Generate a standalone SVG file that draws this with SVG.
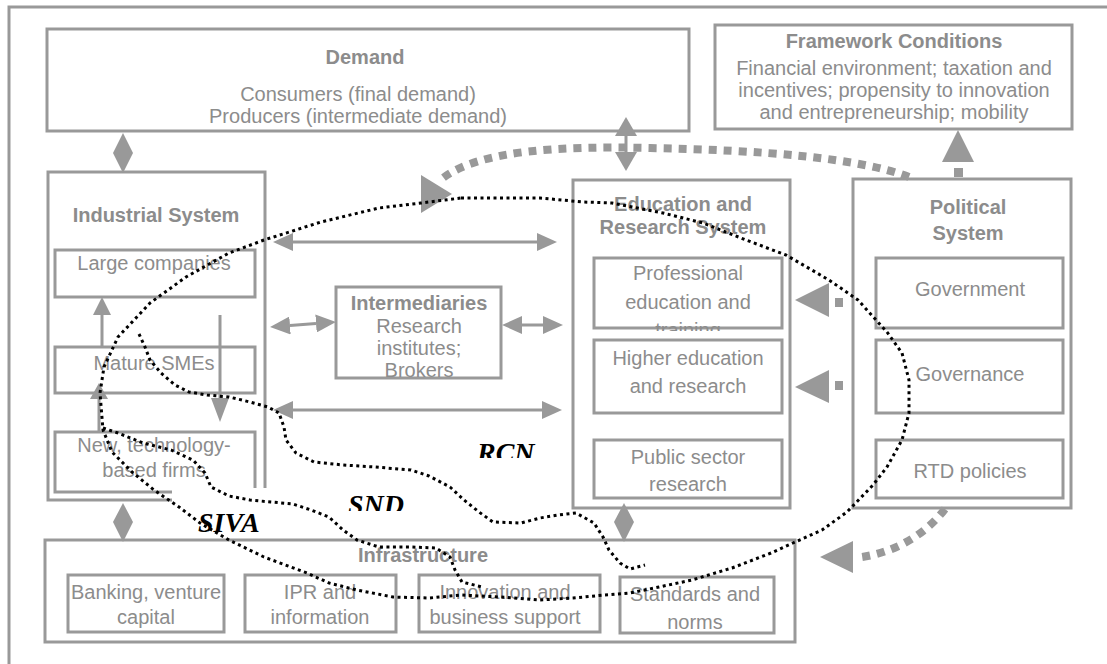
<svg xmlns="http://www.w3.org/2000/svg" width="1107" height="664" viewBox="0 0 1107 664">
<style>
.box{fill:#fff;stroke:#999;stroke-width:3}
.sub{fill:none;stroke:#999;stroke-width:3}
.t{font-family:"Liberation Sans",Arial,sans-serif;font-size:20px;fill:#8c8c8c;text-anchor:middle}
.b{font-weight:bold}
.ln{stroke:#999;stroke-width:3;fill:none}
.hd{fill:#999;stroke:none}
.dash{stroke:#999;stroke-width:8;stroke-dasharray:8 7;fill:none}
.dot{stroke:#000;stroke-width:3;stroke-dasharray:3 3.5;fill:none;stroke-linejoin:round}
.lab{font-family:"Liberation Serif","Times New Roman",serif;font-size:28px;font-weight:bold;font-style:italic;fill:#000}
</style>
<defs>
<marker id="ah" viewBox="0 0 20 18" refX="0" refY="9" markerWidth="20" markerHeight="18" markerUnits="userSpaceOnUse" orient="auto-start-reverse">
<path d="M0,0 L20,9 L0,18 Z" fill="#999"/>
</marker>
<clipPath id="clipTraining"><rect x="594" y="250" width="188" height="81"/></clipPath>
<clipPath id="clipRCN"><rect x="460" y="430" width="100" height="28"/></clipPath>
<clipPath id="clipSND"><rect x="330" y="485" width="100" height="26"/></clipPath>
</defs>
<rect x="0" y="0" width="1107" height="664" fill="#fff"/>
<path d="M9,664 V7 H1107" fill="none" stroke="#999" stroke-width="3"/>

<g id="demand">
<rect class="box" x="47" y="29" width="642" height="102"/>
<text class="t b" x="365" y="64">Demand</text>
<text class="t" x="358" y="101">Consumers (final demand)</text>
<text class="t" x="358" y="123">Producers (intermediate demand)</text>
</g>

<g id="framework">
<rect class="box" x="715" y="25" width="357" height="104"/>
<text class="t b" x="894" y="48">Framework Conditions</text>
<text class="t" x="894" y="75">Financial environment; taxation and</text>
<text class="t" x="894" y="97">incentives; propensity to innovation</text>
<text class="t" x="894" y="119">and entrepreneurship; mobility</text>
</g>

<g id="industrial">
<rect class="box" x="48" y="172" width="217" height="328"/>
<text class="t b" x="156" y="222">Industrial System</text>
<rect class="sub" x="55" y="250" width="200" height="47"/>
<text class="t" x="154" y="270">Large companies</text>
<rect class="sub" x="55" y="347" width="200" height="46"/>
<text class="t" x="154" y="370">Mature SMEs</text>
<rect class="sub" x="55" y="432" width="200" height="60"/>
<text class="t" x="154" y="452">New, technology-</text>
<text class="t" x="154" y="477">based firms</text>
</g>

<g id="intermediaries">
<rect class="box" x="336" y="287" width="165" height="91"/>
<text class="t b" x="419" y="310">Intermediaries</text>
<text class="t" x="419" y="333">Research</text>
<text class="t" x="419" y="355">institutes;</text>
<text class="t" x="419" y="377">Brokers</text>
</g>

<g id="education">
<rect class="box" x="573" y="180" width="217" height="328"/>
<text class="t b" x="683" y="211">Education and</text>
<text class="t b" x="683" y="234">Research System</text>
<rect class="sub" x="594" y="258" width="188" height="70"/>
<text class="t" x="688" y="280">Professional</text>
<text class="t" x="688" y="309">education and</text>
<text class="t" x="688" y="337" clip-path="url(#clipTraining)">training</text>
<rect class="sub" x="594" y="340" width="188" height="73"/>
<text class="t" x="688" y="365">Higher education</text>
<text class="t" x="688" y="393">and research</text>
<rect class="sub" x="594" y="440" width="188" height="58"/>
<text class="t" x="688" y="464">Public sector</text>
<text class="t" x="688" y="491">research</text>
</g>

<g id="political">
<rect class="box" x="853" y="179" width="218" height="329"/>
<text class="t b" x="968" y="214">Political</text>
<text class="t b" x="968" y="240">System</text>
<rect class="sub" x="876" y="258" width="187" height="70"/>
<text class="t" x="970" y="296">Government</text>
<rect class="sub" x="876" y="340" width="187" height="73"/>
<text class="t" x="970" y="381">Governance</text>
<rect class="sub" x="876" y="440" width="187" height="58"/>
<text class="t" x="970" y="478">RTD policies</text>
</g>

<g id="infrastructure">
<rect class="box" x="45" y="540" width="750" height="102"/>
<text class="t b" x="423" y="562">Infrastructure</text>
<rect class="sub" x="68" y="575" width="156" height="57"/>
<text class="t" x="146" y="599">Banking, venture</text>
<text class="t" x="146" y="624">capital</text>
<rect class="sub" x="245" y="575" width="151" height="57"/>
<text class="t" x="320" y="599">IPR and</text>
<text class="t" x="320" y="624">information</text>
<rect class="sub" x="419" y="575" width="181" height="57"/>
<text class="t" x="505" y="599">Innovation and</text>
<text class="t" x="505" y="624">business support</text>
<rect class="sub" x="620" y="577" width="154" height="56"/>
<text class="t" x="695" y="601">Standards and</text>
<text class="t" x="695" y="629">norms</text>
</g>

<g id="connectors">
<polygon class="hd" points="123,133 133,153 123,173 113,153"/>
<line class="ln" x1="626" y1="135" x2="626" y2="153"/>
<polygon class="hd" points="626,117 637,136 615,136"/>
<polygon class="hd" points="626,171 637,152 615,152"/>
<polygon class="hd" points="123,503 133,522 123,542 113,522"/>
<polygon class="hd" points="624,503 634,522 624,542 614,522"/>
<line class="ln" x1="102" y1="347" x2="102" y2="314"/>
<polygon class="hd" points="102,297 93,315 111,315"/>
<line class="ln" x1="99" y1="432" x2="99" y2="397"/>
<polygon class="hd" points="99,383 90,399 108,399"/>
<line class="ln" x1="220" y1="315" x2="220" y2="399"/>
<polygon class="hd" points="220,422 211,398 229,398"/>
<line class="ln" x1="293" y1="242" x2="537" y2="242" marker-start="url(#ah)" marker-end="url(#ah)"/>
<line class="ln" x1="290" y1="325.5" x2="316" y2="323.5" marker-start="url(#ah)" marker-end="url(#ah)"/>
<line class="ln" x1="522" y1="325" x2="543" y2="325" marker-start="url(#ah)" marker-end="url(#ah)"/>
<line class="ln" x1="293" y1="410" x2="542" y2="410" marker-start="url(#ah)" marker-end="url(#ah)"/>
<rect class="hd" x="954" y="168" width="9" height="9"/>
<polygon class="hd" points="958,130 974,162 942,162"/>
<rect class="hd" x="835" y="298" width="8" height="9"/>
<polygon class="hd" points="795,300 829,283 829,317"/>
<rect class="hd" x="835" y="381" width="8" height="9"/>
<polygon class="hd" points="795,387 829,370 829,403"/>
<path class="dash" d="M909,177 C860,158 760,150 650,148 C560,146 480,150 443,178"/>
<polygon class="hd" points="421,175 421,213 452,194"/>
<path class="dash" d="M945,509 C925,535 895,552 862,557"/>
<polygon class="hd" points="820,557 853,541 853,573"/>
</g>

<g id="siva-label">
<rect x="172" y="488" width="100" height="50" fill="#fff"/>
<text class="lab" x="198" y="532">SIVA</text>
</g>
<g id="rcn-label">
<text class="lab" x="477" y="462" clip-path="url(#clipRCN)">RCN</text>
</g>
<g id="snd-label">
<text class="lab" x="348" y="514" clip-path="url(#clipSND)">SND</text>
</g>

<g id="agency-boundaries">
<path class="dot" d="M461,198 L540,198 L583,202 L612,203 L663,213 L703,223 L746,240 L786,255 L829,280 L858,300 L876,320 L887,332 L902,353 L909,380 L909,413 L902,440 L887,467 L873,485 L847,512 L822,530 L793,543 L771,553 L732,568 L692,580 L659,587 L630,593 L605,595 L573,598 L540,600 L500,597 L461,595 L429,598 L393,597 L357,590 L329,583 L307,573 L264,557 L229,540 L200,523 L179,507 L154,490 L132,472 L112,452 L103,430 L100,393 L104,367 L118,337 L150,303 L186,277 L229,253 L264,240 L321,222 L379,208 L421,203 Z"/>
<path class="dot" d="M139,334 L145,347 L150,360 L161,373 L175,385 L189,392 L207,395 L229,397 L250,402 L268,407 L279,413 L284,427 L286,440 L296,453 L314,462 L343,465 L375,467 L411,470 L429,476 L450,487 L464,500 L479,512 L493,522 L521,523 L540,518 L558,515 L576,513 L594,523 L603,537 L609,550 L620,563 L630,569 L645,565"/>
<path class="dot" d="M103,428 L118,433 L143,443 L171,450 L193,460 L205,473 L211,487 L229,496 L250,500 L271,502 L293,504 L311,510 L329,517 L343,530 L357,540 L379,547 L411,547 L436,548 L450,557 L455,570 L462,582 L482,587"/>
</g>
</svg>
